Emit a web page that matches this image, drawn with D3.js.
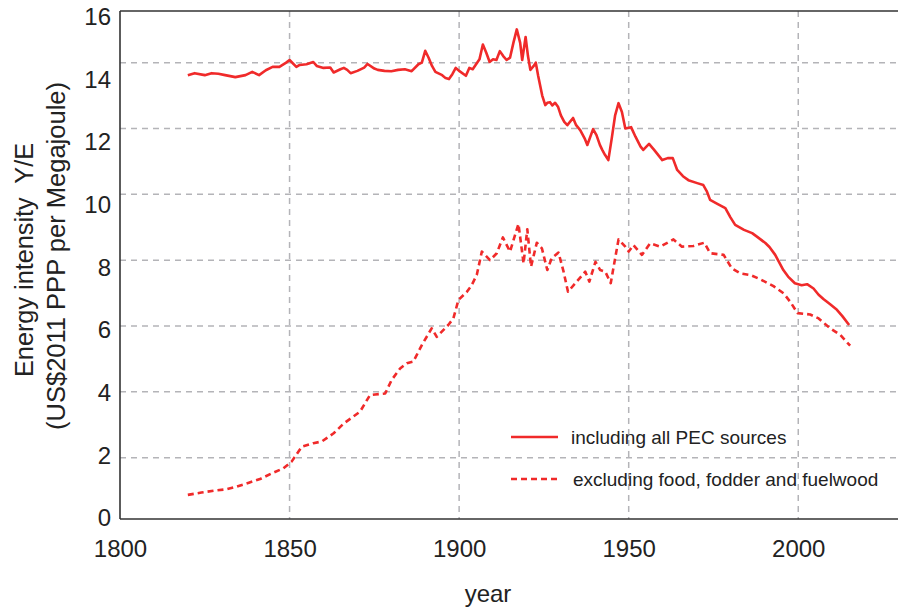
<!DOCTYPE html>
<html>
<head>
<meta charset="utf-8">
<script src="https://cdn.jsdelivr.net/npm/d3@7"></script>
<style>
  html, body { margin: 0; padding: 0; background: #fff; }
  svg { display: block; }
  text { font-family: "Liberation Sans", Arial, sans-serif; fill: #222; }
</style>
</head>
<body>
<svg id="chart" width="898" height="610"></svg>
<script>
// ---------- data ----------
const allYears = [1820,1822,1825,1827,1829,1831,1834,1837,1839,1841,1843,1845,1847,1849,1850,1852,1853,1855,1857,1858,1860,1862,1863,1865,1866,1867,1868,1870,1872,1873,1875,1876,1878,1880,1882,1884,1886,1888,1889,1890,1891,1892,1893,1895,1896,1897,1898,1899,1900,1902,1903,1904,1905,1906,1907,1908,1909,1910,1911,1912,1913,1914,1915,1916,1917,1918,1918.6,1919.6,1920.3,1921,1922,1922.6,1923.3,1924.5,1925.4,1926,1926.8,1927.5,1928.3,1929.2,1930,1931,1931.9,1933.6,1934.5,1935.7,1937,1937.8,1939.5,1940.5,1941.5,1942.2,1943,1944,1945,1946,1947,1948,1949,1950.7,1952,1953.5,1954.3,1956,1957.5,1959.9,1961.5,1963,1964.3,1966,1967.6,1970.2,1972,1973,1974,1976,1978.5,1980,1981.4,1984,1986.4,1988,1990.3,1991.5,1993.2,1995.6,1997,1999,2001,2002.6,2004.5,2006,2007.5,2009.5,2011.4,2013,2015];
const allValues = [13.62,13.68,13.62,13.68,13.66,13.62,13.56,13.62,13.72,13.62,13.77,13.87,13.87,14.0,14.08,13.87,13.93,13.95,14.02,13.9,13.84,13.85,13.7,13.8,13.84,13.78,13.68,13.75,13.85,13.96,13.82,13.78,13.75,13.74,13.78,13.8,13.74,13.95,14.0,14.36,14.15,13.9,13.72,13.62,13.53,13.5,13.65,13.84,13.75,13.6,13.84,13.8,13.95,14.1,14.55,14.3,14.02,14.1,14.08,14.35,14.2,14.08,14.15,14.6,15.01,14.6,14.08,14.78,14.2,13.78,13.9,14.0,13.6,13.0,12.71,12.78,12.8,12.7,12.78,12.65,12.4,12.2,12.1,12.32,12.1,11.95,11.7,11.5,11.98,11.8,11.5,11.35,11.2,11.04,11.7,12.4,12.77,12.5,12.0,12.04,11.75,11.45,11.35,11.53,11.35,11.04,11.1,11.1,10.74,10.55,10.43,10.34,10.28,10.1,9.83,9.72,9.58,9.3,9.07,8.92,8.82,8.7,8.52,8.4,8.16,7.7,7.5,7.3,7.24,7.27,7.14,6.95,6.81,6.65,6.49,6.3,6.03];

const exclYears = [1820,1824,1828,1831.5,1834.4,1838,1841.3,1844.7,1848.2,1850.6,1853.6,1857,1859.5,1863,1866,1870.8,1873.7,1875.2,1878.2,1880.1,1882.6,1884.6,1886.5,1889,1891.9,1893.4,1896.8,1898.3,1899.8,1902.3,1903.7,1905.2,1906.7,1909.1,1911.1,1912.9,1915,1917.5,1919,1920.1,1921.2,1922.9,1924.4,1926,1927.3,1929.3,1930.8,1932.1,1934.7,1937.2,1938.4,1940.2,1941.6,1943.1,1944.7,1947,1949,1950,1951.4,1953.9,1956.3,1959.3,1963.2,1965.7,1969.1,1972.3,1974,1978,1980.4,1982.9,1985.8,1988.8,1992.7,1995.7,1997.6,1999.8,2003.5,2006,2009.4,2012.4,2015.3];
const exclValues = [0.87,0.94,1.0,1.04,1.12,1.24,1.35,1.52,1.68,1.88,2.33,2.44,2.49,2.74,3.04,3.4,3.9,3.92,3.95,4.36,4.71,4.87,4.92,5.42,5.93,5.67,6.03,6.23,6.79,7.04,7.24,7.55,8.26,8.0,8.21,8.69,8.26,9.1,7.9,8.94,7.8,8.53,8.36,7.7,8.06,8.23,7.65,7.04,7.35,7.65,7.35,7.95,7.7,7.65,7.3,8.63,8.41,8.26,8.46,8.16,8.51,8.41,8.63,8.41,8.43,8.53,8.21,8.16,7.75,7.6,7.55,7.42,7.21,6.99,6.74,6.39,6.35,6.23,5.93,5.73,5.4];

const xTicks = [1800, 1850, 1900, 1950, 2000];
const yTicks = [0, 2, 4, 6, 8, 10, 12, 14, 16];
const yGrid = [2, 4, 6, 8, 10, 12, 14];
const legendLabels = ["including all PEC sources", "excluding food, fodder and fuelwood"];

// ---------- layout ----------
const svg = d3.select("#chart");
const mLeft = 120, mRight = 900, mTop = 11, mBottom = 519;
const red = "#f02a2a";

const x = d3.scaleLinear().domain([1800, 2030]).range([mLeft, mRight]);
const y = d3.scaleLinear().domain([0, 16]).range([523.5, -3.2]);
// tick labels in the source are laid out on a slightly different spacing
const yLab = d3.scaleLinear().domain([0, 16]).range([518, 17]);

// grid
const grid = svg.append("g").attr("stroke", "#b4b4b8").attr("stroke-width", 1.5)
  .attr("stroke-dasharray", "6,5");
grid.selectAll("line.h").data(yGrid).join("line").attr("class", "h")
  .attr("x1", mLeft).attr("x2", mRight).attr("y1", d => y(d)).attr("y2", d => y(d));
grid.selectAll("line.v").data(xTicks.slice(1)).join("line").attr("class", "v")
  .attr("x1", d => x(d)).attr("x2", d => x(d)).attr("y1", mTop).attr("y2", mBottom);

// frame
const frame = svg.append("g").attr("stroke", "#333").attr("stroke-width", 1.6).attr("fill", "none");
frame.append("line").attr("x1", mLeft).attr("x2", mLeft).attr("y1", mTop).attr("y2", mBottom);
frame.append("line").attr("x1", mLeft).attr("x2", mRight).attr("y1", mBottom).attr("y2", mBottom);
frame.append("line").attr("x1", mLeft).attr("x2", mRight).attr("y1", mTop).attr("y2", mTop);

// axes (labels only)
const xAxis = svg.append("g").attr("transform", `translate(0,${mBottom})`)
  .call(d3.axisBottom(x).tickValues(xTicks).tickFormat(d3.format("d")).tickSize(0).tickPadding(21));
xAxis.select(".domain").remove();
xAxis.selectAll("text").style("font-size", "24px").attr("fill", "#222");

const yAxis = svg.append("g").attr("transform", `translate(${mLeft - 9},0)`)
  .call(d3.axisLeft(yLab).tickValues(yTicks).tickFormat(d3.format("d")).tickSize(0).tickPadding(0));
yAxis.select(".domain").remove();
yAxis.selectAll("text").style("font-size", "24px").attr("fill", "#222");

// lines
const line = d3.line().x(d => x(d[0])).y(d => y(d[1]));
const allData = d3.zip(allYears, allValues);
const exclData = d3.zip(exclYears, exclValues);

svg.append("path").datum(allData).attr("d", line)
  .attr("fill", "none").attr("stroke", red).attr("stroke-width", 2.6).attr("stroke-linejoin", "round");
svg.append("path").datum(exclData).attr("d", line)
  .attr("fill", "none").attr("stroke", red).attr("stroke-width", 2.6)
  .attr("stroke-dasharray", "6,4").attr("stroke-linejoin", "round");

// legend
const lg = svg.append("g");
const ly = [437, 479];
lg.append("line").attr("x1", 511).attr("x2", 558).attr("y1", ly[0]).attr("y2", ly[0])
  .attr("stroke", red).attr("stroke-width", 2.6);
lg.append("line").attr("x1", 511).attr("x2", 558).attr("y1", ly[1]).attr("y2", ly[1])
  .attr("stroke", red).attr("stroke-width", 2.6).attr("stroke-dasharray", "6,4");
lg.selectAll("text").data(legendLabels).join("text")
  .attr("x", (d, i) => i === 0 ? 571 : 573).attr("y", (d, i) => ly[i])
  .attr("dy", "0.35em").style("font-size", "19px").text(d => d);

// titles
svg.append("text").attr("x", 488).attr("y", 594).attr("dy", "0.35em")
  .attr("text-anchor", "middle").style("font-size", "24px").text("year");

svg.append("text").attr("transform", "translate(33,260) rotate(-90)")
  .attr("text-anchor", "middle").style("font-size", "25px")
  .attr("textLength", 234).attr("lengthAdjust", "spacingAndGlyphs")
  .style("white-space", "pre").text("Energy intensity  Y/E");
svg.append("text").attr("transform", "translate(65,256) rotate(-90)")
  .attr("text-anchor", "middle").style("font-size", "25px")
  .attr("textLength", 348).attr("lengthAdjust", "spacingAndGlyphs")
  .text("(US$2011 PPP per Megajoule)");
</script>
</body>
</html>
